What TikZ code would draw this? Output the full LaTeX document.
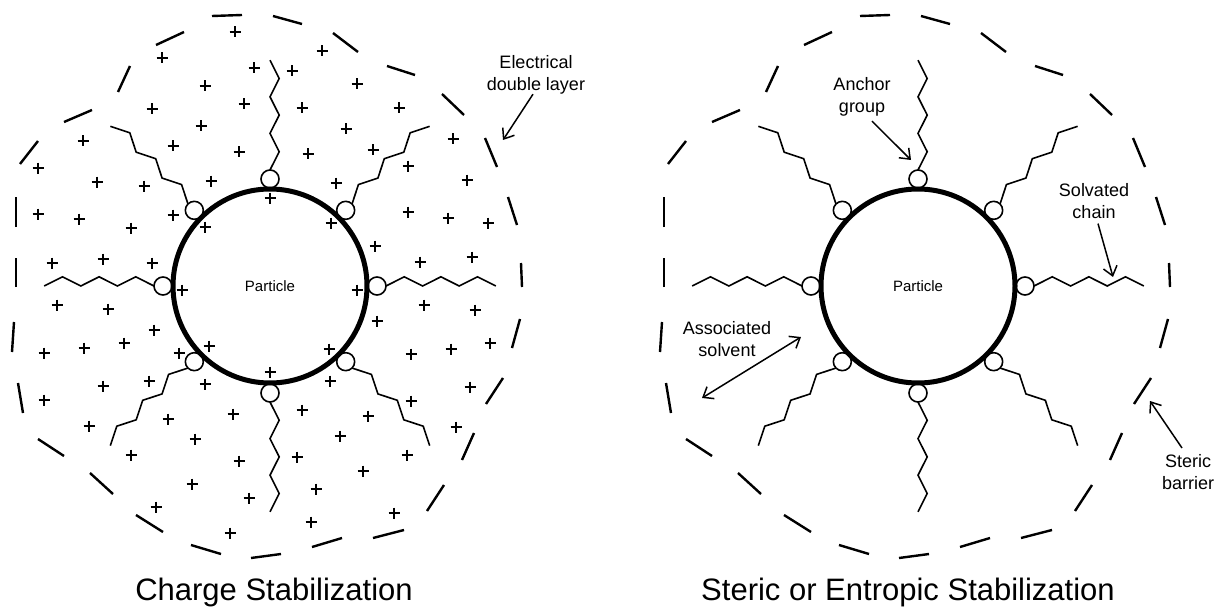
\documentclass[tikz,border=0pt]{standalone}
\usepackage{fontspec}
\setmainfont{Liberation Sans}
\usetikzlibrary{calc,arrows.meta}

\tikzset{
  particle/.style={circle, draw=black, line width=5pt, minimum size=194pt, inner sep=0pt, font=\fontsize{15}{18}\selectfont},
  anchorball/.style={circle, draw=black, line width=1.6pt, minimum size=18pt, inner sep=0pt},
  chainline/.style={black, line width=1.6pt},
  barrierdash/.style={black, line width=2.4pt},
  plussign/.style={black, line width=2.4pt},
  callout/.style={black, line width=1.5pt, -{Straight Barb[length=9pt,width=14pt]}},
  lbl/.style={anchor=north, inner sep=0pt, align=center, font=\fontsize{18}{22}\selectfont},
  caption/.style={anchor=base, inner sep=0pt, font=\fontsize{31}{36}\selectfont}
}

% particle with anchor groups and zigzag chains
\newcommand{\stabparticle}[2]{%
  \node[particle] (#1) at (#2,286) {Particle};
  \foreach \a/\s in {0/-90,45/-90,90/-90,135/90,180/90,225/90,270/90,315/-90}{
    \node[anchorball] (#1-\a) at ($(#1)+(\a:107)$) {};
    \draw[chainline] ($(#1)+(\a:116)$)
      \foreach \i in {1,...,6}{ -- ($(#1)+(\a:{116+18.3*\i})+({\a+\s}:{9.2*mod(\i,2)})$) };
  }
}

% dashed outer layer
\newcommand{\barrierdashes}{%
  \foreach \ax/\ay/\bx/\by in {212/16/242/15, 273/16/302/24, 333/33/358/52, 387/66/415/75,
      442/94/464/115, 485/138/497/167, 508/197/517/225, 521/263/522/287,
      520/319/512/348, 503/378/486/404, 474/433/462/460, 444/485/427/511,
      404/530/373/538, 342/538/312/547, 281/554/251/558, 221/554/191/545,
      163/532/136/515, 113/494/90/473, 64/456/38/439, 23/413/18/383,
      12/352/14/322, 16/287/16/258, 16/227/16/197, 20/164/38/141,
      64/122/92/110, 118/92/130/66, 156/45/184/32}{
    \draw[barrierdash] (\ax,\ay) -- (\bx,\by);
  }
}

\begin{document}
\begin{tikzpicture}[x=1pt,y=-1pt]
\useasboundingbox (0,0) rectangle (1218,607);

% charge stabilization
\stabparticle{pL}{270}
\barrierdashes
\foreach \x/\y in {235/32,162/58,322/51,254/68,292/71,205/86,357/84,152/109,244/104,302/108,
    399/108,201/126,346/129,83/141,173/146,239/152,308/154,373/150,453/139,38/168,
    408/166,97/182,144/186,211/181,336/183,467/180,270/198,38/214,79/219,131/228,
    173/215,205/227,331/223,408/212,448/218,488/223,375/246,52/263,103/259,152/263,
    420/262,472/257,182/290,357/290,
    57/305,108/309,154/330,424/305,475/310,377/321,44/353,84/348,124/343,179/353,
    209/346,329/349,411/354,451/349,490/343,270/372,149/381,103/386,205/384,330/381,
    44/400,470/387,411/401,233/414,302/410,168/419,368/416,89/426,456/427,195/439,
    340/436,131/455,239/461,297/457,407/455,363/471,192/484,316/489,249/498,156/507,
    394/513,311/522,230/533}
  \draw[plussign] (\x,\y) +(-5.5,0) -- +(5.5,0) +(0,-5.5) -- +(0,5.5);

\node[lbl] (edl) at (536,55) {Electrical\\double layer};
\coordinate (edlTip) at (503,140);
\draw[callout] ([xshift=-3pt]edl.south) -- (edlTip);

\node[caption] (capL) at (274,600) {Charge Stabilization};

% steric stabilization
\stabparticle{pR}{918}
\begin{scope}[xshift=648pt]
  \barrierdashes
\end{scope}

\node[lbl] (anc) at (862,77) {Anchor\\group};
\coordinate (ancTip) at (911,160);
\draw[callout] ([xshift=10pt,yshift=-5pt]anc.south) -- (ancTip);

\node[lbl] (sol) at (1094,183) {Solvated\\chain};
\coordinate (solTip) at (1113,277);
\draw[callout] ([xshift=4pt,yshift=-5pt]sol.south) -- (solTip);

\node[lbl] (asv) at (727,321) {Associated\\solvent};
\coordinate (asvA) at (801,337);
\coordinate (asvB) at (702,398);
\draw[callout, {Straight Barb[length=9pt,width=14pt]}-{Straight Barb[length=9pt,width=14pt]}] (asvA) -- (asvB);

\node[lbl] (ster) at (1188,454) {Steric\\barrier};
\coordinate (sterTip) at (1150,401);
\draw[callout] ([xshift=-6pt,yshift=6pt]ster.north) -- (sterTip);

\node[caption] (capR) at (908,600) {Steric or Entropic Stabilization};
\end{tikzpicture}
\end{document}
